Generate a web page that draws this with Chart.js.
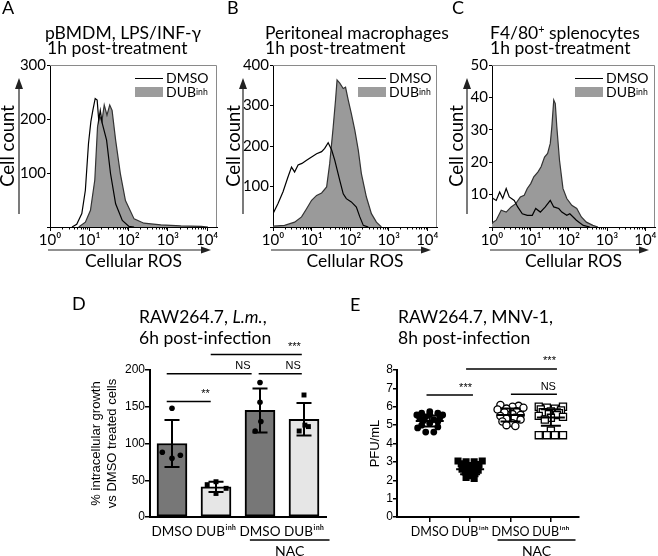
<!DOCTYPE html>
<html>
<head>
<meta charset="utf-8">
<script src="https://cdn.jsdelivr.net/npm/chart.js@4.4.1/dist/chart.umd.min.js"></script>
<style>
body { margin: 0; background: #fff; }
#fig { position: relative; width: 658px; height: 556px; overflow: hidden; font-family: Lato, sans-serif; color: #000; }
#fig canvas { position: absolute; }
.t { position: absolute; font-size: 17.5px; line-height: 17px; white-space: nowrap; }
.L { position: absolute; font-size: 18px; line-height: 18px; }
.leg { position: absolute; font-size: 14px; line-height: 14px; display: flex; align-items: center; white-space: nowrap; }
.ln { width: 28px; border-top: 1.5px solid #000; margin-right: 3px; }
.bx { width: 28px; height: 10px; background: #9c9c9c; margin-right: 3px; }
sup { font-size: 0.62em; line-height: 0; vertical-align: 0.6em; }
</style>
</head>
<body>
<div id="fig">
  <canvas id="cA" width="222" height="275" style="left:0;top:0"></canvas>
  <canvas id="cB" width="220" height="275" style="left:222px;top:0"></canvas>
  <canvas id="cC" width="216" height="275" style="left:442px;top:0"></canvas>
  <canvas id="cD" width="275" height="266" style="left:60px;top:290px"></canvas>
  <canvas id="cE" width="230" height="266" style="left:355px;top:290px"></canvas>

  <div class="L" style="left:2px;top:-2px">A</div>
  <div class="L" style="left:227px;top:-2px">B</div>
  <div class="L" style="left:452px;top:-2px">C</div>
  <div class="L" style="left:72px;top:294px">D</div>
  <div class="L" style="left:350px;top:295px">E</div>

  <div class="t" style="left:45px;top:24px">pBMDM, LPS/INF-γ</div>
  <div class="t" style="left:47px;top:39px">1h post-treatment</div>
  <div class="t" style="left:265px;top:24px">Peritoneal macrophages</div>
  <div class="t" style="left:265px;top:39px">1h post-treatment</div>
  <div class="t" style="left:490px;top:24px">F4/80<sup>+</sup> splenocytes</div>
  <div class="t" style="left:490px;top:39px">1h post-treatment</div>
  <div class="t" style="left:139px;top:308px">RAW264.7, <i>L.m.</i>,</div>
  <div class="t" style="left:139px;top:329px">6h post-infection</div>
  <div class="t" style="left:398px;top:308px">RAW264.7, MNV-1,</div>
  <div class="t" style="left:398px;top:329px">8h post-infection</div>

  <div class="leg" style="left:135px;top:71px"><span class="ln"></span>DMSO</div>
  <div class="leg" style="left:135px;top:85px"><span class="bx"></span>DUB<sup>inh</sup></div>
  <div class="leg" style="left:358px;top:71px"><span class="ln"></span>DMSO</div>
  <div class="leg" style="left:358px;top:85px"><span class="bx"></span>DUB<sup>inh</sup></div>
  <div class="leg" style="left:575px;top:71px"><span class="ln"></span>DMSO</div>
  <div class="leg" style="left:575px;top:85px"><span class="bx"></span>DUB<sup>inh</sup></div>
</div>
<script>
// flow histograms: x is log10 of the ROS signal, y is cell count
const logTicks = [0, 1, 2, 3, 4];
const logLabels = ['10⁰', '10¹', '10²', '10³', '10⁴'];

const aDmsoX = [0.56, 0.68, 0.81, 0.90, 0.98, 1.04, 1.09, 1.15, 1.20, 1.24, 1.28, 1.33, 1.44, 1.54, 1.67, 1.84, 2.01, 2.14];
const aDmsoY = [0, 5, 25, 68, 155, 195, 216, 238, 235, 198, 216, 192, 161, 99, 43, 12, 1, 0];
const aDubX = [0.73, 0.90, 1.03, 1.14, 1.21, 1.26, 1.32, 1.38, 1.45, 1.52, 1.58, 1.67, 1.79, 1.92, 2.14, 2.39, 2.82, 3.33, 3.85, 4.02];
const aDubY = [0, 9, 31, 87, 186, 207, 195, 226, 207, 226, 216, 161, 99, 49, 15, 7, 4, 2, 1, 0];

const bDmsoX = [0, 0.13, 0.26, 0.39, 0.48, 0.56, 0.65, 0.75, 0.87, 1.0, 1.13, 1.26, 1.34, 1.43, 1.52, 1.6, 1.73, 1.82, 1.9, 2.03, 2.16, 2.25, 2.34, 2.47];
const bDmsoY = [33, 58, 87, 124, 148, 136, 153, 157, 165, 173, 181, 186, 194, 208, 190, 165, 115, 82, 70, 62, 49, 25, 4, 0];
const bDubX = [0, 0.3, 0.56, 0.74, 0.87, 1.0, 1.13, 1.26, 1.39, 1.47, 1.56, 1.62, 1.66, 1.73, 1.82, 1.88, 1.95, 2.03, 2.12, 2.21, 2.29, 2.42, 2.55, 2.68, 2.81];
const bDubY = [2, 4, 12, 25, 45, 66, 78, 84, 99, 157, 247, 313, 363, 355, 342, 345, 313, 280, 239, 190, 132, 74, 33, 12, 0];

const cDmsoX = [0, 0.01, 0.03, 0.11, 0.2, 0.28, 0.37, 0.45, 0.58, 0.67, 0.79, 0.92, 1.05, 1.14, 1.26, 1.39, 1.52, 1.61, 1.74, 1.82, 1.95, 2.03, 2.2, 2.38, 2.55];
const cDmsoY = [48, 9, 8.8, 8.2, 10.8, 8.8, 11.9, 9.3, 8.2, 6.2, 4.1, 3.6, 3.6, 5.7, 4.6, 6.2, 8.2, 6.2, 5.7, 4.6, 3.6, 4.1, 2.1, 0.5, 0];
const cDubX = [0, 0.03, 0.11, 0.24, 0.37, 0.5, 0.62, 0.74, 0.84, 0.92, 1.01, 1.09, 1.2, 1.28, 1.37, 1.45, 1.52, 1.56, 1.61, 1.65, 1.69, 1.76, 1.85, 1.95, 2.08, 2.21, 2.33, 2.46, 2.63, 2.76];
const cDubY = [1, 1.5, 2.1, 5.2, 4.6, 6.2, 7.2, 9.3, 9.8, 11.9, 13.4, 15.5, 17, 18.6, 21.6, 22.7, 25.8, 30.9, 39.2, 38.1, 30.9, 20.6, 11.9, 8.8, 6.7, 5.7, 3.1, 1.5, 0.5, 0];

// D: bars = mean, error = SD, dots = replicates
const dCats = ['DMSO', 'DUBⁱⁿʰ', 'DMSO', 'DUBⁱⁿʰ'];
const dMean = [100, 41, 145, 133];
const dSd = [32, 7, 30, 22];
const dPts = [[148, 88, 80, 84], [44, 48, 39, 32], [183, 156, 130, 117], [166, 125, 123, 117]];
const dJit = [[0, -0.22, 0, 0.19], [-0.2, 0, 0.23, 0], [0, 0, 0.02, -0.11], [0, 0.02, 0.1, -0.11]];
const dFill = ['#777777', '#e6e6e6', '#777777', '#e6e6e6'];
const dSig = [
  { x1: -0.12, x2: 0.88, y: 157, text: '**' },
  { x1: -0.12, x2: 1.81, y: 195, text: 'NS' },
  { x1: 1.97, x2: 2.95, y: 195, text: 'NS' },
  { x1: 0.88, x2: 2.95, y: 221, text: '***' }
];

// E: PFU/mL per well
const eCats = ['DMSO', 'DUBⁱⁿʰ', 'DMSO', 'DUBⁱⁿʰ'];
const eDmso = [5.73, 5.65, 5.65, 5.58, 5.55, 5.55, 5.45, 5.4, 5.4, 5.3, 5.25, 5.2, 5.1, 5.0, 4.9, 4.85, 4.62, 4.62];
const eDmsoOff = [0, -0.2, 0.2, 0, -0.32, 0.32, -0.1, -0.25, 0.25, 0.1, -0.15, 0.2, 0, -0.2, 0.2, -0.3, -0.1, 0.1];
const eDub = [3.05, 3.05, 3.0, 3.0, 2.9, 2.85, 2.8, 2.75, 2.7, 2.65, 2.6, 2.55, 2.5, 2.45, 2.35, 2.25, 2.15, 2.1];
const eDubOff = [-0.3, 0.3, -0.1, 0.1, -0.22, 0.22, 0, -0.15, 0.15, 0, -0.2, 0.2, 0, -0.12, 0.12, 0, -0.1, 0.1];
const eNacDmso = [6.1, 6.05, 6.0, 5.95, 5.9, 5.85, 5.75, 5.7, 5.6, 5.55, 5.5, 5.4, 5.35, 5.3, 5.2, 5.1, 5.0, 4.95];
const eNacDmsoOff = [-0.25, 0.2, 0.05, 0.32, -0.1, -0.32, 0.15, -0.15, 0.05, 0.25, -0.25, 0.1, -0.1, 0.25, -0.2, 0.05, -0.1, 0.12];
const eNacDub = [6.0, 6.0, 5.95, 5.9, 5.85, 5.8, 5.75, 5.7, 5.65, 5.6, 5.55, 5.5, 5.45, 5.4, 5.3, 4.7, 4.45, 4.45, 4.45, 4.45];
const eNacDubOff = [-0.3, 0.3, -0.1, 0.1, -0.25, 0.25, 0, -0.2, 0.2, -0.05, 0.15, -0.3, 0.3, 0, -0.15, 0, -0.3, -0.1, 0.1, 0.3];
const eMean = [5.22, 2.6, 5.55, 5.42];
const eSd = [0.3, 0.28, 0.35, 0.45];
const eSig = [
  { x1: -0.08, x2: 1.07, y: 6.64, text: '***' },
  { x1: 0.9, x2: 3.15, y: 8.06, text: '***' },
  { x1: 2.01, x2: 3.15, y: 6.68, text: 'NS' }
];

Chart.defaults.font.family = 'Lato, sans-serif';
Chart.defaults.color = '#000';

const SANS = 'Liberation Sans, Arial, sans-serif';

// extra drawing: frame, minor log ticks, axis arrows, error bars, significance bars
const deco = {
  id: 'deco',
  afterDraw(chart, args, o) {
    const { ctx, chartArea: a, scales } = chart;
    const sx = v => scales.x.getPixelForValue(v);
    const sy = v => scales.y.getPixelForValue(v);
    ctx.save();
    if (o.frame) {
      ctx.strokeStyle = '#8a8a8a';
      ctx.lineWidth = 1;
      ctx.beginPath();
      ctx.moveTo(a.left, a.top + 0.5);
      ctx.lineTo(a.right - 0.5, a.top + 0.5);
      ctx.lineTo(a.right - 0.5, a.bottom);
      ctx.stroke();
    }
    if (o.minor) {
      ctx.strokeStyle = '#000';
      ctx.lineWidth = 1;
      ctx.beginPath();
      for (let d = 0; d < 4; d++) {
        for (let k = 2; k < 10; k++) {
          const x = Math.round(sx(d + Math.log10(k))) + 0.5;
          ctx.moveTo(x, a.bottom);
          ctx.lineTo(x, a.bottom + 2.5);
        }
      }
      ctx.stroke();
    }
    if (o.arrowOff) {
      ctx.strokeStyle = '#222';
      ctx.fillStyle = '#222';
      ctx.lineWidth = 1.2;
      const ax = a.left - o.arrowOff;
      ctx.beginPath();
      ctx.moveTo(ax, a.bottom - 13);
      ctx.lineTo(ax, a.top + 22);
      ctx.stroke();
      ctx.beginPath();
      ctx.moveTo(ax - 4, a.top + 24);
      ctx.lineTo(ax + 4, a.top + 24);
      ctx.lineTo(ax, a.top + 13);
      ctx.closePath();
      ctx.fill();
      const ay = a.bottom + 23;
      const tip = a.right - 6;
      ctx.beginPath();
      ctx.moveTo(a.left - 2, ay);
      ctx.lineTo(tip - 9, ay);
      ctx.stroke();
      ctx.beginPath();
      ctx.moveTo(tip - 10, ay - 3.5);
      ctx.lineTo(tip - 10, ay + 3.5);
      ctx.lineTo(tip, ay);
      ctx.closePath();
      ctx.fill();
    }
    if (o.err) {
      const e = o.err;
      ctx.strokeStyle = '#000';
      ctx.lineWidth = 2;
      e.mean.forEach((m, i) => {
        const x = sx(i);
        const t = sy(m + e.sd[i]), b = sy(m - e.sd[i]);
        ctx.beginPath();
        ctx.moveTo(x, t); ctx.lineTo(x, b);
        ctx.moveTo(x - e.cw, t); ctx.lineTo(x + e.cw, t);
        ctx.moveTo(x - e.cw, b); ctx.lineTo(x + e.cw, b);
        if (e.mw) {
          ctx.moveTo(x - e.mw, sy(m)); ctx.lineTo(x + e.mw, sy(m));
        }
        ctx.stroke();
      });
    }
    if (o.sig) {
      ctx.strokeStyle = '#000';
      ctx.fillStyle = '#000';
      ctx.lineWidth = 1.5;
      ctx.font = '11px ' + SANS;
      ctx.textAlign = 'right';
      ctx.textBaseline = 'bottom';
      o.sig.forEach(s => {
        const y = sy(s.y);
        ctx.beginPath();
        ctx.moveTo(sx(s.x1), y);
        ctx.lineTo(sx(s.x2), y);
        ctx.stroke();
        ctx.fillText(s.text, sx(s.x2) - 1, y - 2);
      });
    }
    if (o.nac) {
      const x1 = sx(o.nac.x1), x2 = sx(o.nac.x2);
      ctx.strokeStyle = '#000';
      ctx.lineWidth = 1.5;
      ctx.beginPath();
      ctx.moveTo(x1, a.bottom + 23);
      ctx.lineTo(x2, a.bottom + 23);
      ctx.stroke();
      ctx.fillStyle = '#000';
      ctx.font = '14px Lato, sans-serif';
      ctx.textAlign = 'center';
      ctx.textBaseline = 'middle';
      ctx.fillText('NAC', (x1 + x2) / 2, a.bottom + 34);
    }
    ctx.restore();
  }
};

function histo(id, dx, dy, ux, uy, yMax, yStep, yW, padRight, titlePad, arrowOff) {
  return new Chart(document.getElementById(id), {
    type: 'line',
    data: {
      datasets: [
        { label: 'DMSO', data: dx.map((x, i) => ({ x, y: dy[i] })), borderColor: '#000', borderWidth: 1.2,
          fill: false, pointRadius: 0, tension: 0, order: 0 },
        { label: 'DUBinh', data: ux.map((x, i) => ({ x, y: uy[i] })), borderColor: '#333', borderWidth: 1.2,
          backgroundColor: '#9a9a9a', fill: 'origin', pointRadius: 0, tension: 0, order: 1 }
      ]
    },
    plugins: [deco],
    options: {
      responsive: false,
      animation: false,
      events: [],
      layout: { padding: { top: 65, right: padRight, left: 0, bottom: 0 } },
      plugins: {
        legend: { display: false },
        tooltip: { enabled: false },
        deco: { frame: true, minor: true, arrowOff }
      },
      scales: {
        x: {
          type: 'linear', min: 0, max: 4.25,
          afterBuildTicks: s => { s.ticks = logTicks.map(v => ({ value: v })); },
          afterFit: s => { s.height = 48; },
          grid: { drawOnChartArea: false, tickLength: 4, color: '#000' },
          border: { color: '#000' },
          ticks: { callback: v => logLabels[v], font: { size: 15 }, color: '#000', padding: 0, maxRotation: 0, autoSkip: false },
          title: { display: true, text: 'Cellular ROS', font: { size: 17.5 }, color: '#000', padding: { top: 0, bottom: 3 } }
        },
        y: {
          min: 0, max: yMax,
          afterFit: s => { s.width = yW; },
          grid: { drawOnChartArea: false, tickLength: 3, color: '#000' },
          border: { color: '#000' },
          ticks: { stepSize: yStep, callback: v => v === 0 ? '' : v, font: { size: 15 }, color: '#000', padding: 1 },
          title: { display: true, text: 'Cell count', font: { size: 18.5 }, color: '#000', padding: { top: titlePad, bottom: 0 } }
        }
      }
    }
  });
}

histo('cA', aDmsoX, aDmsoY, aDubX, aDubY, 300, 100, 50, 5, -3, 31);
histo('cB', bDmsoX, bDmsoY, bDubX, bDubY, 400, 100, 51, 5, 1, 30);
histo('cC', cDmsoX, cDmsoY, cDubX, cDubY, 50, 10, 50, 3, 4, 25);

// panel D
const dDots = [], dStyle = [], dRad = [];
dPts.forEach((g, i) => g.forEach((v, j) => {
  dDots.push({ x: i + dJit[i][j], y: v });
  dStyle.push(i % 2 ? 'rect' : 'circle');
  dRad.push(i % 2 ? 3.5 : 2.8);
}));

new Chart(document.getElementById('cD'), {
  type: 'bar',
  data: {
    datasets: [
      { type: 'bar', data: dMean.map((m, i) => ({ x: i, y: m })), backgroundColor: dFill, borderColor: '#000',
        borderWidth: 2, borderSkipped: false, barThickness: 30, order: 2 },
      { type: 'scatter', data: dDots, pointStyle: dStyle, pointRadius: dRad, backgroundColor: '#000',
        borderColor: '#000', borderWidth: 0, order: 1 }
    ]
  },
  plugins: [deco],
  options: {
    responsive: false,
    animation: false,
    events: [],
    layout: { padding: { top: 80, right: 9, left: 0, bottom: 0 } },
    plugins: {
      legend: { display: false },
      tooltip: { enabled: false },
      deco: { err: { mean: dMean, sd: dSd, cw: 7.5, mw: 0 }, sig: dSig, nac: { x1: 1.77, x2: 3.58 } }
    },
    scales: {
      x: {
        type: 'linear', min: -0.5, max: 3.5, offset: false,
        afterBuildTicks: s => { s.ticks = dCats.map((c, i) => ({ value: i })); },
        afterFit: s => { s.height = 39; },
        grid: { display: false, drawTicks: false, offset: false },
        border: { color: '#000', width: 2 },
        ticks: { callback: v => dCats[v], font: { size: 13.5 }, color: '#000', padding: 7, maxRotation: 0, autoSkip: false }
      },
      y: {
        min: 0, max: 200,
        afterFit: s => { s.width = 90; },
        grid: { drawOnChartArea: false, tickLength: 5, color: '#000', lineWidth: 1.5 },
        border: { color: '#000', width: 2 },
        ticks: { stepSize: 50, font: { family: SANS, size: 12 }, color: '#000', padding: 0 },
        title: { display: true, text: ['% intracellular growth', 'vs DMSO treated cells'],
          font: { family: SANS, size: 13 }, color: '#000', padding: { top: 29, bottom: 0 } }
      }
    }
  }
});

// panel E
const pts = (vals, offs, g) => vals.map((v, i) => ({ x: g + offs[i], y: v }));

new Chart(document.getElementById('cE'), {
  type: 'scatter',
  data: {
    datasets: [
      { data: pts(eDmso, eDmsoOff, 0), pointStyle: 'circle', pointRadius: 3.4, backgroundColor: '#000', borderColor: '#000', borderWidth: 0 },
      { data: pts(eDub, eDubOff, 1), pointStyle: 'rect', pointRadius: 5, backgroundColor: '#000', borderColor: '#000', borderWidth: 0 },
      { data: pts(eNacDmso, eNacDmsoOff, 2), pointStyle: 'circle', pointRadius: 3.6, backgroundColor: '#fff', borderColor: '#000', borderWidth: 1.3 },
      { data: pts(eNacDub, eNacDubOff, 3), pointStyle: 'rect', pointRadius: 5, backgroundColor: '#fff', borderColor: '#000', borderWidth: 1.3 }
    ]
  },
  plugins: [deco],
  options: {
    responsive: false,
    animation: false,
    events: [],
    layout: { padding: { top: 80, right: 5, left: 0, bottom: 0 } },
    plugins: {
      legend: { display: false },
      tooltip: { enabled: false },
      deco: { err: { mean: eMean, sd: eSd, cw: 10, mw: 14 }, sig: eSig, nac: { x1: 1.68, x2: 3.61 } }
    },
    scales: {
      x: {
        type: 'linear', min: -0.811, max: 3.689,
        afterBuildTicks: s => { s.ticks = eCats.map((c, i) => ({ value: i })); },
        afterFit: s => { s.height = 39; },
        grid: { drawOnChartArea: false, tickLength: 5, color: '#000', lineWidth: 1.5 },
        border: { color: '#000', width: 2 },
        ticks: { callback: v => eCats[v], font: { size: 12.5 }, color: '#000', padding: 2, maxRotation: 0, autoSkip: false }
      },
      y: {
        min: 0, max: 8,
        afterFit: s => { s.width = 42; },
        grid: { drawOnChartArea: false, tickLength: 4, color: '#000', lineWidth: 1.5 },
        border: { color: '#000', width: 2 },
        ticks: { stepSize: 1, font: { family: SANS, size: 12 }, color: '#000', padding: 0 },
        title: { display: true, text: 'PFU/mL', font: { family: SANS, size: 13 }, color: '#000', padding: { top: 13, bottom: 0 } }
      }
    }
  }
});
</script>
</body>
</html>
